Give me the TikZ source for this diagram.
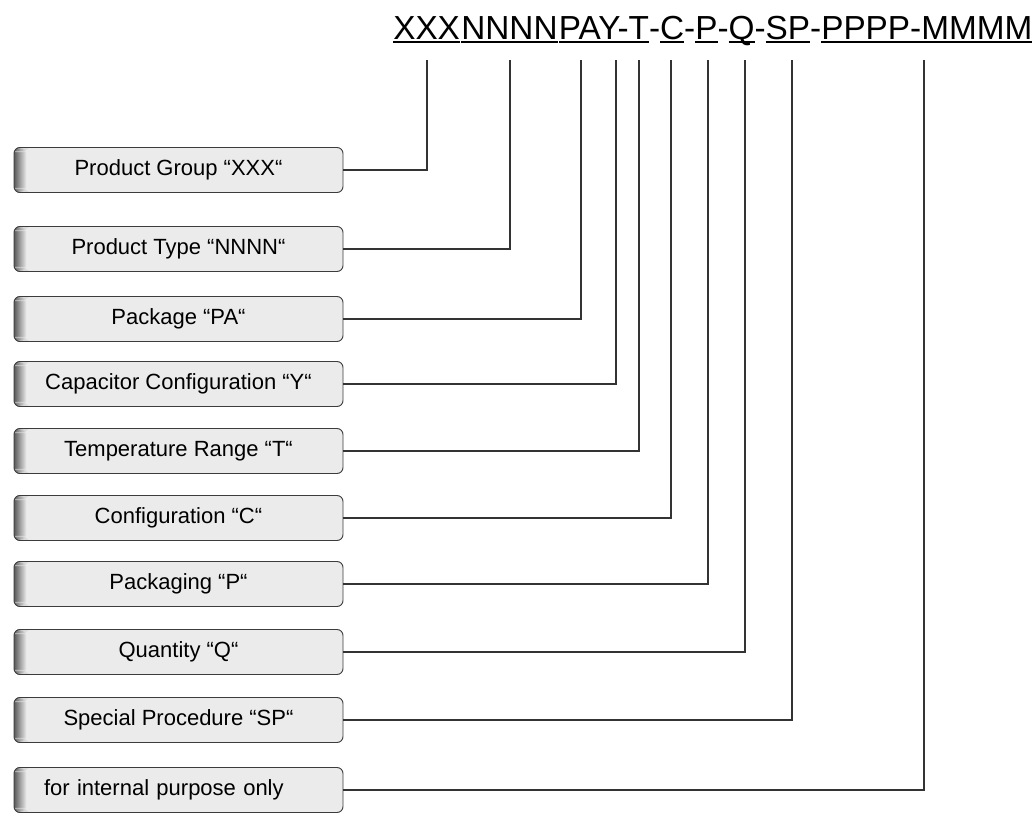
\documentclass[tikz,border=0pt]{standalone}
\usepackage{fontspec}
\setmainfont{Liberation Sans}
\usepackage{tikz}
\usetikzlibrary{positioning}
\definecolor{boxfill}{HTML}{EBEBEB}
\definecolor{boxedge}{HTML}{3C3C3C}
\definecolor{wirecol}{HTML}{333333}
% one field of the code, with its own underline
\newcommand{\fld}[1]{\setbox0=\hbox{#1}\rlap{\vrule height -1.7pt depth 2.8pt width \wd0}\box0}

\tikzset{
  field/.style={draw=boxedge, line width=0.7pt, fill=boxfill, rounded corners=4.5pt,
    minimum width=246.75pt, minimum height=33.75pt, inner sep=0pt,
    font=\fontsize{16.5}{19}\selectfont,
    % darker rim on the left, fading into the fill
    path picture={\foreach \i in {0,...,11}{
      \pgfmathtruncatemacro{\dk}{62-5*\i}
      \fill[black!\dk!boxfill] ([xshift=\i*0.75pt]path picture bounding box.south west)
        rectangle ([xshift=\i*0.75pt+0.85pt]path picture bounding box.north west);}}},
  wire/.style={draw=wirecol, line width=1pt}
}

\begin{document}
\begin{tikzpicture}[x=0.75pt, y=-0.75pt]
    \useasboundingbox (0,0) rectangle (1033,814);

    % the order code, every field underlined on its own
    \node[anchor=base west, inner sep=0pt, font=\fontsize{25}{30}\selectfont] (code) at (393,39)
      {\fld{XXX}\kern1pt\fld{NNNN}\kern1pt\fld{PAY-}\fld{T}-\fld{C}-\fld{P}-\fld{Q}-\fld{SP}-\fld{PPPP-MMMM}};

    % where the leads leave the code
    \coordinate (tgrp) at (427,60);
    \coordinate (ttyp) at (510,60);
    \coordinate (tpkg) at (581,60);
    \coordinate (tcap) at (616,60);
    \coordinate (ttmp) at (639,60);
    \coordinate (tcfg) at (671,60);
    \coordinate (tpck) at (708,60);
    \coordinate (tqty) at (745,60);
    \coordinate (tspc) at (792,60);
    \coordinate (tint) at (924,60);

    \node[field] (grp) at (178.5,170) {Product Group “XXX“};
    \node[field] (typ) at (178.5,249) {Product Type “NNNN“};
    \node[field] (pkg) at (178.5,319) {Package “PA“};
    \node[field] (cap) at (178.5,384) {Capacitor Configuration “Y“};
    \node[field] (tmp) at (178.5,451) {Temperature Range “T“};
    \node[field] (cfg) at (178.5,518) {Configuration “C“};
    \node[field] (pck) at (178.5,584) {Packaging “P“};
    \node[field] (qty) at (178.5,652) {Quantity “Q“};
    \node[field] (spc) at (178.5,720) {Special Procedure “SP“};
    \node[field, inner xsep=22.5pt, text width=201.75pt, align=left] (int) at (178.5,790) {for internal purpose only};

    \draw[wire] (grp.east) -| (tgrp);
    \draw[wire] (typ.east) -| (ttyp);
    \draw[wire] (pkg.east) -| (tpkg);
    \draw[wire] (cap.east) -| (tcap);
    \draw[wire] (tmp.east) -| (ttmp);
    \draw[wire] (cfg.east) -| (tcfg);
    \draw[wire] (pck.east) -| (tpck);
    \draw[wire] (qty.east) -| (tqty);
    \draw[wire] (spc.east) -| (tspc);
    \draw[wire] (int.east) -| (tint);
\end{tikzpicture}
\end{document}
